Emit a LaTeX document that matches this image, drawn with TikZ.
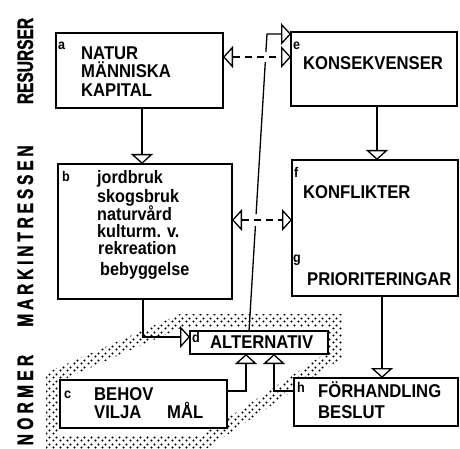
\documentclass[tikz,border=0pt]{standalone}
\usepackage{fontspec}
\setmainfont{Liberation Sans}[FakeStretch=0.9]
\newfontfamily\sidefont{Liberation Sans Bold}[FakeStretch=0.69,FakeBold=1.2]
\usetikzlibrary{arrows.meta,fit,patterns}
\pgfdeclarepatternformonly{stip}{\pgfqpoint{0pt}{0pt}}{\pgfqpoint{6.5pt}{6.5pt}}{\pgfqpoint{6.5pt}{6.5pt}}{%
  \pgfpathcircle{\pgfqpoint{1.6pt}{1.6pt}}{1.2pt}%
  \pgfpathcircle{\pgfqpoint{4.85pt}{4.85pt}}{1.2pt}%
  \pgfusepath{fill}}
\begin{document}
\begin{tikzpicture}[x=1pt,y=-1pt,
  box/.style={draw, line width=1.6pt, fill=white, inner sep=0pt},
  txt/.style={inner sep=0pt, anchor=base west, font=\fontsize{18.5}{20}\selectfont\bfseries},
  ltxt/.style={inner sep=0pt, anchor=base west, font=\fontsize{18}{19}\selectfont\bfseries},
  lbl/.style={inner sep=0pt, anchor=base west, font=\fontsize{14}{16}\selectfont\bfseries},
  side/.style={inner sep=0pt, anchor=base, rotate=90},
  conn/.style={line width=1.3pt},
  opentip/.style={-{Triangle[open,length=10pt,width=22pt]}},
  dsh/.style={line width=1.3pt, dash pattern=on 7pt off 5pt,
    {Triangle[open,length=10pt,width=22pt]}-{Triangle[open,length=10pt,width=22pt]}}
]
\useasboundingbox (0,0) rectangle (460,449);

% dotted band round c and d
\fill[pattern=stip, even odd rule]
  (46,449) -- (46,373) -- (180,314) -- (342,314) -- (342,358) -- (206,449) -- cycle
  (58,435) -- (58,382) -- (183,327) -- (329,327) -- (329,351) -- (202,435) -- cycle;

% boxes
\node[box, fit={(56,33) (223,108)}] (a) {};
\node[box, fit={(291,32) (457,106)}] (e) {};
\node[box, fit={(58,164) (232,299)}] (b) {};
\node[box, fit={(292,160) (458,296)}] (f) {};
\node[box, fit={(190,331) (328,354)}] (d) {};
\node[box, fit={(60,380) (227,428)}] (c) {};
\node[box, fit={(294,378) (458,426)}] (h) {};

% side labels
\node[side, font=\sidefont\fontsize{22.5}{24}\selectfont] (rs) at (33,61) {RESURSER};
\node[side, font=\sidefont\fontsize{22.5}{24}\selectfont\addfontfeature{LetterSpace=17}] (mk) at (33,236) {MARKINTRESSEN};
\node[side, font=\sidefont\fontsize{22.5}{24}\selectfont\addfontfeature{LetterSpace=19}] (nm) at (33,400) {NORMER};

% texts
\node[lbl] (la) at (58,50) {a};
\node[txt] (t1) at (81,60) {NATUR};
\node[txt] (t2) at (81,78) {MÄNNISKA};
\node[txt] (t3) at (81,97) {KAPITAL};

\node[lbl] (le) at (293,50) {e};
\node[txt] (t4) at (303,70) {KONSEKVENSER};

\node[lbl] (lb) at (62,182) {b};
\node[ltxt] (t5) at (97,183) {jordbruk};
\node[ltxt] (t6) at (97,202) {skogsbruk};
\node[ltxt] (t7) at (97,220) {naturvård};
\node[ltxt] (t8) at (97,237) {kulturm. v.};
\node[ltxt] (t9) at (98,254) {rekreation};
\node[ltxt] (t10) at (100,275) {bebyggelse};

\node[lbl] (lf) at (294,178) {f};
\node[txt] (t11) at (303,198) {KONFLIKTER};
\node[lbl] (lg) at (293,262) {g};
\node[txt] (t12) at (307,285) {PRIORITERINGAR};

\node[lbl] (ld) at (192,342) {d};
\node[txt] (t13) at (210,348) {ALTERNATIV};

\node[lbl] (lc) at (64,398) {c};
\node[txt] (t14) at (94,400) {BEHOV};
\node[txt] (t15) at (94,418) {VILJA};
\node[txt] (t16) at (167,418) {MÅL};

\node[lbl] (lh) at (297,392) {h};
\node[txt] (t17) at (318,397) {FÖRHANDLING};
\node[txt] (t18) at (318,418) {BESLUT};

% connectors
\coordinate (ab1) at (142,108); \coordinate (ab2) at (142,164);
\draw[conn, opentip] (ab1) -- (ab2);
\coordinate (ef1) at (377,106); \coordinate (ef2) at (377,160);
\draw[conn, opentip] (ef1) -- (ef2);
\coordinate (fh1) at (382,296); \coordinate (fh2) at (382,378);
\draw[conn, opentip] (fh1) -- (fh2);
\coordinate (bd1) at (143,299); \coordinate (bd2) at (190,337);
\draw[conn, opentip] (bd1) |- (bd2);
\coordinate (cd1) at (227,391); \coordinate (cd2) at (246,354);
\draw[conn, opentip] (cd1) -| (cd2);
\coordinate (hd1) at (294,391); \coordinate (hd2) at (274,354);
\draw[conn, opentip] (hd1) -| (hd2);

% d to e (broken where dashed lines cross)
\coordinate (de0) at (249,331);
\coordinate (de1) at (255.4,226); \coordinate (de2) at (256.1,214);
\coordinate (de3) at (265.3,62); \coordinate (de4) at (265.9,52);
\coordinate (de5) at (267,34); \coordinate (de6) at (291,34);
\draw[conn] (de0) -- (de1);
\draw[conn] (de2) -- (de3);
\draw[conn, opentip] (de4) -- (de5) -- (de6);

% dashed double arrows
\coordinate (ae1) at (223,57); \coordinate (ae2) at (291,57);
\draw[dsh] (ae1) -- (ae2);
\coordinate (bf1) at (232,220); \coordinate (bf2) at (292,220);
\draw[dsh] (bf1) -- (bf2);
\end{tikzpicture}
\end{document}
